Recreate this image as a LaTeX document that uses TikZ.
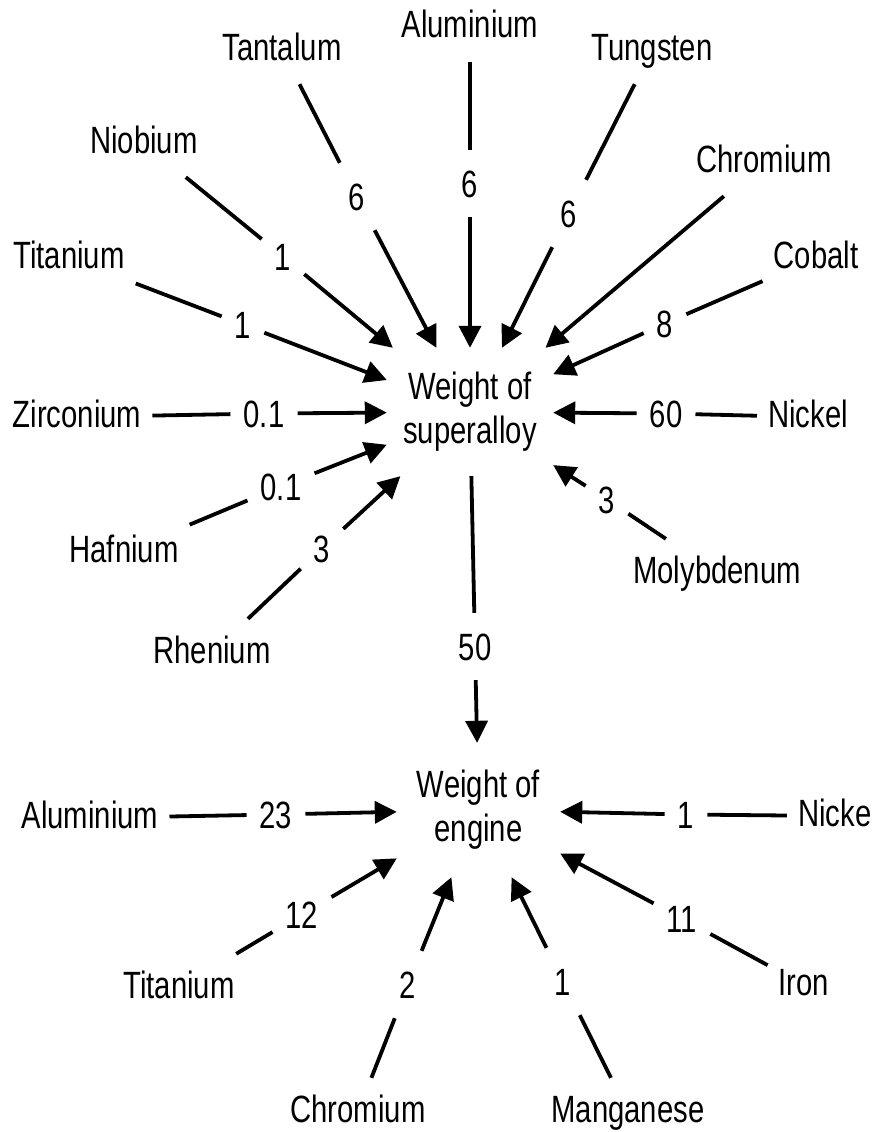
\documentclass[tikz,border=0pt]{standalone}
\usepackage{fontspec}
\setmainfont{Liberation Sans}[FakeStretch=0.77]
\usetikzlibrary{arrows.meta}
\begin{document}
\begin{tikzpicture}[x=1pt,y=-1pt,
  every node/.style={font=\fontsize{38}{44}\selectfont},
  elem/.style={anchor=base, inner xsep=11pt, inner ysep=16pt, text height=28pt, text depth=8pt},
  wlab/.style={anchor=base, inner xsep=13pt, inner ysep=20pt, text height=27pt, text depth=0pt},
  hub/.style={align=center, inner sep=0pt},
  link/.style={line width=3.8pt},
  feed/.style={line width=3.8pt, -{Triangle[length=22pt,width=22pt]}}]
\useasboundingbox (0,0) rectangle (871,1132);
\clip (0,0) rectangle (871,1132);

% hubs
\node[hub, minimum width=166pt, minimum height=128pt] (sup) at (470,412) {Weight of\\superalloy};
\node[hub, minimum width=163pt, minimum height=134pt] (eng) at (478.5,810) {Weight of\\engine};

% superalloy elements
\node[elem] (ta) at (282,60) {Tantalum};
\node[elem] (nb) at (144,153) {Niobium};
\node[elem] (ti) at (69,268) {Titanium};
\node[elem] (zr) at (77,427) {Zirconium};
\node[elem] (hf) at (124,562) {Hafnium};
\node[elem] (re) at (212,663) {Rhenium};
\node[elem] (al) at (470,38) {Aluminium};
\node[elem] (w) at (652,60) {Tungsten};
\node[elem] (cr) at (764,172) {Chromium};
\node[elem] (co) at (816,268) {Cobalt};
\node[elem] (ni) at (808,427) {Nickel};
\node[elem] (mo) at (717,583) {Molybdenum};

% superalloy weights
\node[wlab] (lta) at (357,210) {6};
\node[wlab] (lnb) at (283,270) {1};
\node[wlab] (lti) at (243,338) {1};
\node[wlab] (lzr) at (264,427) {0.1};
\node[wlab] (lhf) at (281,500) {0.1};
\node[wlab] (lre) at (322,562) {3};
\node[wlab] (lal) at (470,197) {6};
\node[wlab] (lw) at (569,227) {6};
\node[wlab] (lco) at (665,337) {8};
\node[wlab] (lni) at (666,427) {60};
\node[wlab] (lmo) at (607,513) {3};
\node[wlab] (l50) at (475,660) {50};

% engine elements
\node[elem] (al2) at (90,828) {Aluminium};
\node[elem] (ti2) at (179,998) {Titanium};
\node[elem] (cr2) at (358,1122) {Chromium};
\node[elem] (mn) at (628,1122) {Manganese};
\node[elem] (fe) at (804,995) {Iron};
\node[elem] (ni2) at (838,826) {Nickel};

% engine weights
\node[wlab] (l23) at (276,828) {23};
\node[wlab] (l12) at (302,928) {12};
\node[wlab] (l2) at (408,998) {2};
\node[wlab] (lmn) at (563,995) {1};
\node[wlab] (l11) at (682,932) {11};
\node[wlab] (lni2) at (686,828) {1};

% superalloy connectors
\draw[link] (ta) -- (lta);  \draw[feed] (lta) -- (sup);
\draw[link] (nb) -- (lnb);  \draw[feed] (lnb) -- (sup);
\draw[link] (ti) -- (lti);  \draw[feed] (lti) -- (sup);
\draw[link] (zr) -- (lzr);  \draw[feed] (lzr) -- (sup);
\draw[link] (hf) -- (lhf);  \draw[feed] (lhf) -- (sup);
\draw[link] (re) -- (lre);  \draw[feed] (lre) -- (sup);
\draw[link] (al) -- (lal);  \draw[feed] (lal) -- (sup);
\draw[link] (w) -- (lw);    \draw[feed] (lw) -- (sup);
\draw[feed] (cr) -- (sup);
\draw[link] (co) -- (lco);  \draw[feed] (lco) -- (sup);
\draw[link] (ni) -- (lni);  \draw[feed] (lni) -- (sup);
\draw[link] (mo) -- (lmo);  \draw[feed] (lmo) -- (sup);
\draw[link] (sup) -- (l50); \draw[feed] (l50) -- (eng);

% engine connectors
\draw[link] (al2) -- (l23); \draw[feed] (l23) -- (eng);
\draw[link] (ti2) -- (l12); \draw[feed] (l12) -- (eng);
\draw[link] (cr2) -- (l2);  \draw[feed] (l2) -- (eng);
\draw[link] (mn) -- (lmn);  \draw[feed] (lmn) -- (eng);
\draw[link] (fe) -- (l11);  \draw[feed] (l11) -- (eng);
\draw[link] (ni2) -- (lni2); \draw[feed] (lni2) -- (eng);
\end{tikzpicture}
\end{document}
